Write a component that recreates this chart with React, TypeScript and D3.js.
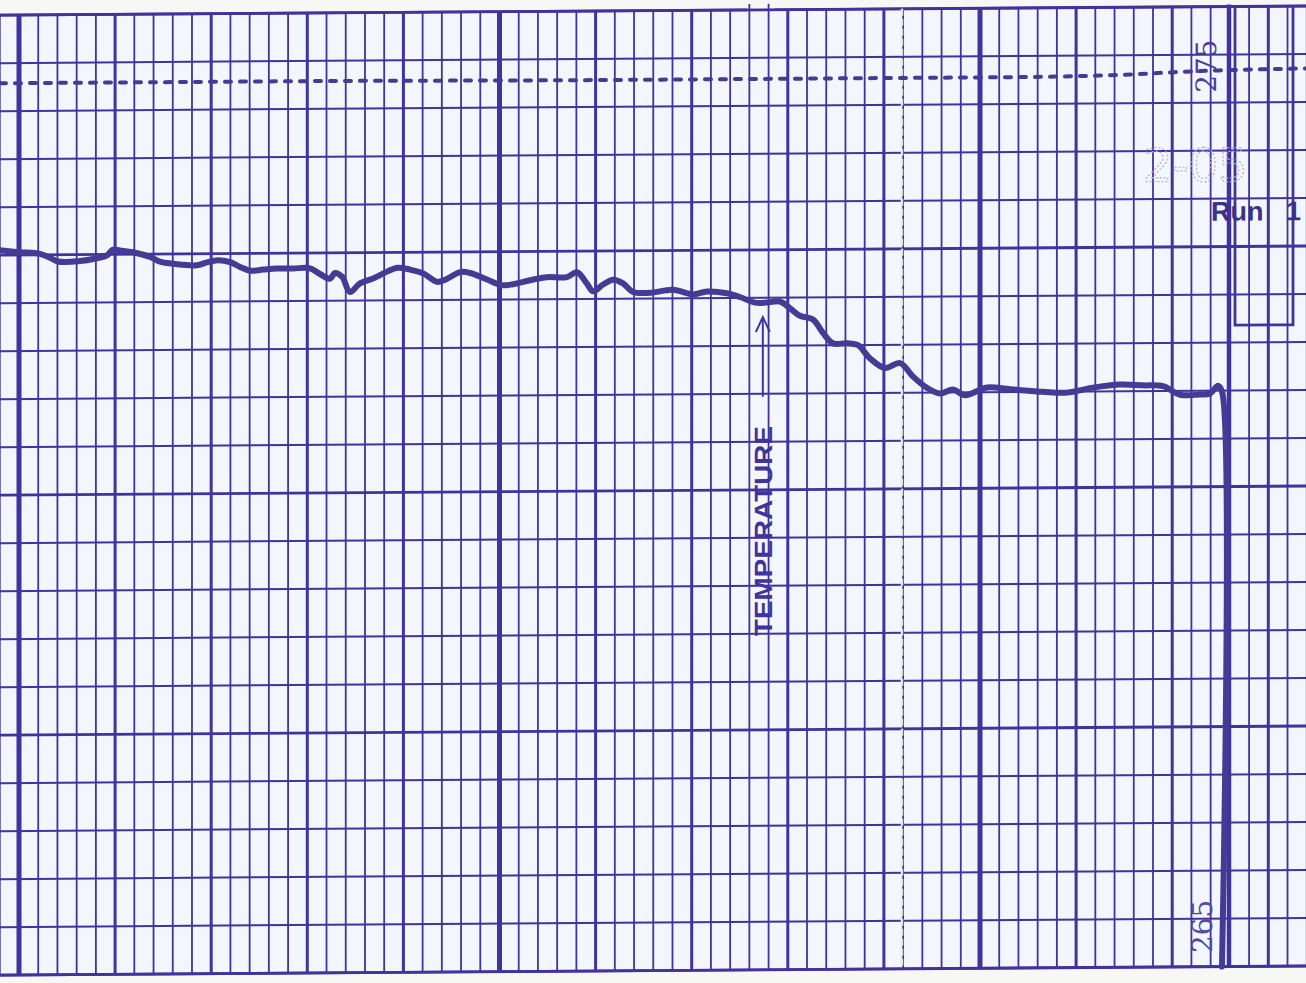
import React from 'react';
import * as d3 from 'd3';

// Recorder trace: time in chart divisions, temperature in scale units
const timeDiv = [
  -0.99, 0, 1.09, 1.61, 2.03, 3.07, 4.06, 4.58, 4.89, 5.25, 5.93, 6.82, 7.34, 8.38, 9.26, 9.78,
  10.35, 10.98, 11.5, 12.02, 12.7, 13.42, 14.26, 15.14, 15.66, 16.18, 16.44, 16.81, 17.22, 17.74,
  18.42, 19.15, 19.67, 20.34, 21.02, 21.75, 22.16, 22.95, 23.47, 24.35, 25.13, 25.7, 26.59, 27.47,
  28.51, 29.03, 29.55, 29.86, 30.39, 30.91, 31.43, 31.95, 32.83, 34.03, 35.07, 35.8, 36.84, 37.51,
  38.29, 38.92, 39.59, 40.11, 40.63, 41.31, 41.83, 42.35, 43.08, 43.65, 44.28, 45.06, 45.84, 46.51,
  47.24, 47.92, 48.6, 49.22, 50.36, 51.56, 53.28, 54.53, 55.88, 57.28, 58.48, 59.52, 60.41, 61.45,
  61.97, 62.38, 62.59, 62.59,
];
const temperature = [
  272.55, 272.53, 272.51, 272.47, 272.43, 272.43, 272.46, 272.49, 272.55, 272.54, 272.52, 272.47,
  272.42, 272.39, 272.38, 272.41, 272.43, 272.41, 272.36, 272.32, 272.33, 272.34, 272.34, 272.34,
  272.28, 272.23, 272.29, 272.25, 272.09, 272.18, 272.23, 272.3, 272.34, 272.32, 272.28, 272.19,
  272.21, 272.29, 272.28, 272.21, 272.15, 272.16, 272.2, 272.23, 272.23, 272.28, 272.16, 272.08,
  272.15, 272.2, 272.16, 272.07, 272.06, 272.09, 272.04, 272.07, 272.05, 272.01, 271.95, 271.95,
  271.96, 271.89, 271.81, 271.77, 271.63, 271.52, 271.52, 271.5, 271.36, 271.26, 271.31, 271.17,
  271.05, 270.99, 271.03, 270.97, 271.05, 271.03, 271.0, 270.99, 271.04, 271.07, 271.06, 271.05,
  270.96, 270.96, 270.97, 271.05, 270.99, 265.0,
];

// Dashed reference trace
const refTimeDiv = [-0.99, 14.62, 30.23, 45.84, 51.04, 56.24, 61.45, 66.96];
const refTemperature = [274.29, 274.29, 274.28, 274.28, 274.28, 274.29, 274.33, 274.35];

// Scale labels written on the chart
const scaleLabels = ['265', '275'];
const scaleLabelTemps = [265.42, 274.38];

const gridDivs = d3.range(-1, 68);
const gridTemps = d3.range(0, 21).map((j) => 265 + j * 0.5);

const INK = '#41329c';
const TRACE = '#473a94';

export default function App() {
  const W = 1306;
  const H = 983;
  const x = d3.scaleLinear().domain([0, 50]).range([19, 980]);
  const y = d3.scaleLinear().domain([265, 275]).range([975, 15]);
  const skew = 0.007;
  const top = y(275);
  const bottom = y(265);

  const traceLine = d3
    .line<number>()
    .x((_, i) => x(timeDiv[i]))
    .y((d) => y(d))
    .curve(d3.curveCatmullRom.alpha(0.5));
  const refLine = d3
    .line<number>()
    .x((_, i) => x(refTimeDiv[i]))
    .y((d) => y(d))
    .curve(d3.curveMonotoneX);

  const arrowX = x(38.7);
  const arrowTip = y(271.8);
  const arrowTail = y(270.97);
  const tempLabelY = y(269.57);

  const penX = 1229;
  const boxL = 1235;
  const boxR = 1293;
  const boxB = y(271.68);

  return (
    <svg
      width={W}
      height={H}
      style={{ position: 'absolute', left: 0, top: 0, display: 'block' }}
      xmlns="http://www.w3.org/2000/svg"
    >
      <rect x={0} y={0} width={W} height={H} fill="#f7f8f6" />
      <g transform={`matrix(1,${-skew},0,1,0,${skew * 19})`}>
        <rect x={-20} y={top} width={W + 40} height={bottom - top} fill="#f3f6fc" />
        {/* horizontal grid */}
        {gridTemps.map((t, j) => (
          <line
            key={'h' + j}
            x1={-20}
            x2={W + 20}
            y1={y(t)}
            y2={y(t)}
            stroke={INK}
            strokeWidth={j % 5 === 0 ? 2.8 : 2}
          />
        ))}
        {/* vertical grid */}
        {gridDivs.map((i) => (
          <line
            key={'v' + i}
            x1={x(i)}
            x2={x(i)}
            y1={i === 38 || i === 39 ? top - 6 : top}
            y2={bottom}
            stroke={INK}
            strokeWidth={i % 25 === 0 ? 5 : i % 5 === 0 ? 3 : 1.8}
          />
        ))}
        {/* top border with gap */}
        <line x1={-20} x2={747} y1={top} y2={top} stroke={INK} strokeWidth={2.6} />
        <line x1={775} x2={W + 20} y1={top} y2={top} stroke={INK} strokeWidth={2.6} />
        <line x1={-20} x2={W + 20} y1={bottom} y2={bottom} stroke={INK} strokeWidth={2.6} />

        {/* fold line */}
        <line x1={902} x2={902} y1={top} y2={bottom} stroke="#e6e6dc" strokeWidth={2.5} strokeDasharray="7 3" />

        {/* dashed reference trace */}
        <path
          d={refLine(refTemperature) || ''}
          fill="none"
          stroke={TRACE}
          strokeWidth={4}
          strokeDasharray="6 9"
          strokeLinecap="round"
        />

        {/* pen marker and box */}
        <line x1={penX} x2={penX} y1={top - 2} y2={bottom} stroke={INK} strokeWidth={4.5} />
        <path
          d={`M${boxL},${top} V${boxB} H${boxR} V${top}`}
          fill="none"
          stroke={INK}
          strokeWidth={2.8}
        />

        {/* main trace */}
        <path
          d={traceLine(temperature) || ''}
          fill="none"
          stroke={TRACE}
          strokeWidth={6}
          strokeLinejoin="round"
          strokeLinecap="round"
        />

        {/* annotation arrow */}
        <line x1={arrowX} x2={arrowX} y1={arrowTail} y2={arrowTip + 1} stroke={INK} strokeWidth={2} />
        <path
          d={`M${arrowX - 7},${arrowTip + 15} L${arrowX},${arrowTip} L${arrowX + 7},${arrowTip + 15}`}
          fill="none"
          stroke={INK}
          strokeWidth={2}
        />
        <text
          transform={`translate(${arrowX},${tempLabelY}) rotate(-90)`}
          textAnchor="middle"
          dominantBaseline="central"
          fontFamily="'Liberation Sans', Arial, sans-serif"
          fontWeight="bold"
          fontSize={25}
          textLength={210}
          lengthAdjust="spacingAndGlyphs"
          fill={INK}
        >
          TEMPERATURE
        </text>

        {/* scale labels */}
        {scaleLabels.map((s, k) => (
          <text
            key={s}
            transform={`translate(${k === 0 ? 1203 : 1207},${y(scaleLabelTemps[k])}) rotate(-90)`}
            textAnchor="middle"
            dominantBaseline="central"
            fontFamily="'DejaVu Serif', serif"
            fontSize={28}
            fill={k === 0 ? '#5548a6' : '#4a3c9c'}
          >
            {s}
          </text>
        ))}

        {/* faint ghost marking */}
        <text
          x={1143}
          y={y(273.18)}
          fontFamily="'DejaVu Sans', sans-serif"
          fontSize={46}
          fill="none"
          stroke="#b3b1d8"
          strokeWidth={1.2}
          strokeDasharray="2 2"
        >
          2-05
        </text>

        <text
          y={y(272.77)}
          fontFamily="'Liberation Sans', Arial, sans-serif"
          fontWeight="bold"
          fontSize={27}
          fill="#3d3088"
        >
          <tspan x={1211}>Run</tspan>
          <tspan x={1286}>1</tspan>
        </text>
      </g>
    </svg>
  );
}
